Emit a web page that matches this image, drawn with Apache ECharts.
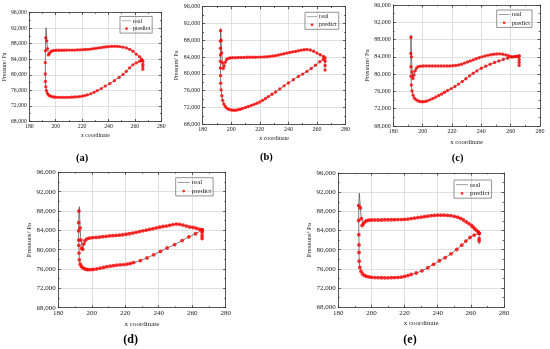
<!DOCTYPE html>
<html><head><meta charset="utf-8">
<script src="https://cdn.jsdelivr.net/npm/echarts@6.0.0/dist/echarts.min.js"></script>
<style>html,body{margin:0;padding:0;background:#fff}#c{width:550px;height:349px}</style>
</head><body><div id="c"></div><script>
// ---------- data ----------
const seriesNames = ['real', 'predict'];
const panelLabels = ['(a)', '(b)', '(c)', '(d)', '(e)'];
const xTitle = 'x coordinate';
const yTitle = 'Pressure/ Pa';
const xRange = [180, 280, 20];
const yRange = [68000, 96000, 4000];

// panel (a)
const xA = [266,266,266,266,265,263.5,261,258.5,256,253.5,251,248.5,246.5,244.5,242.5,240.5,238.5,236.5,234.5,232.5,230.5,228.5,226.5,224.5,222.5,220.5,218.5,216.5,214.5,212.5,210.5,208.5,206.5,204.5,202.5,200.5,198.8,197.4,196.2,195.3,194.5,193.8,193.2,192.7,192.4,192.2,192.1,192.1,192.2,192.5,193,193.7,194.6,195.7,197,198.5,200,202,204,206,208,210,212,214,216,218,220,222,224,226.5,229,231.5,234.5,237.5,241,244.5,248,251,253.5,256,258.5,261,263.5,265.5];
const realA = [81400,82100,82700,83500,84000,84650,85300,86050,86550,86900,87100,87250,87300,87300,87300,87250,87200,87100,87000,86900,86800,86700,86600,86550,86500,86450,86400,86400,86350,86350,86350,86350,86300,86300,86300,86300,86250,86150,85950,85500,85100,86700,88700,92100,89500,86200,83100,80200,78300,76900,75900,75200,74800,74550,74400,74300,74250,74200,74200,74200,74200,74200,74250,74300,74350,74400,74500,74650,74850,75100,75500,75950,76450,77100,77750,78500,79300,80100,80900,81800,82550,83050,83450,83700];
const predA = [81400,82100,82700,83500,84000,84650,85300,86050,86550,86900,87100,87250,87300,87300,87300,87250,87200,87100,87000,86900,86800,86700,86600,86550,86500,86450,86400,86400,86350,86350,86350,86350,86300,86300,86300,86300,86250,86150,85950,85500,85100,86700,88700,null,89500,86200,83100,80200,78300,76900,75900,75200,74800,74550,74400,74300,74250,74200,74200,74200,74200,74200,74250,74300,74350,74400,74500,74650,74850,75100,75500,75950,76450,77100,77750,78500,79300,80100,80900,81800,82550,83050,83450,83700];

// panel (b)
const xB = [265.7,265.7,265.7,265.7,264.6,262.3,260,257.7,255.3,253,251,249,247,245,243,241,239,237,235,233,231,229,227,225,223,221,219,217,215,213,211,209,207,205,203,201,199.2,197.8,196.7,195.8,195,194.4,193.8,193.3,192.9,192.7,192.5,192.4,192.4,192.4,192.4,192.4,192.5,192.6,192.9,193.4,194,194.8,195.8,197,198.4,200,201.6,203.2,204.8,206.4,208,210,212,214,216,218,220,222,224,226,228.5,231,234,237,240,243.5,247,250,253,256,259,262,264.5];
const realB = [80900,82000,83000,83800,84150,84550,84950,85400,85700,85800,85750,85650,85500,85350,85250,85100,84950,84800,84650,84500,84350,84250,84150,84100,84050,84000,84000,83950,83950,83950,83950,83900,83900,83900,83850,83850,83800,83700,83400,82800,81900,81300,82600,85000,88000,90800,90300,87800,86100,84500,83000,81400,79600,77800,76200,74800,73700,72850,72250,71800,71550,71400,71350,71350,71450,71600,71800,72000,72250,72500,72750,73000,73300,73700,74150,74600,75150,75700,76400,77150,77850,78600,79400,79950,80600,81300,82050,82900,83500];
const predB = [80900,82000,83000,83800,84150,84550,84950,85400,85700,85800,85750,85650,85500,85350,85250,85100,84950,84800,84650,84500,84350,84250,84150,84100,84050,84000,84000,83950,83950,83950,83950,83900,83900,83900,83850,83850,83800,83700,83400,82800,81900,81300,82600,85000,88000,null,90300,87800,86100,84500,83000,81400,79600,77800,76200,74800,73700,72850,72250,71800,71550,71400,71350,71350,71450,71600,71800,72000,72250,72500,72750,73000,73300,73700,74150,74600,75150,75700,76400,77150,77850,78600,79400,79950,80600,81300,82050,82900,83500];

// panel (c)
const xC = [265.8,265.8,265.8,265.8,264.3,262.3,260.3,258.5,256.7,254.6,252.5,250.5,248.5,246.5,244.5,242.5,240.5,238.5,236.5,234.5,232.5,230.5,228.5,226.5,224.5,222.5,220.5,218.5,216.5,214.5,212.5,210.5,208.5,206.5,204.5,202.5,200.5,198.6,197,195.8,194.9,194.1,193.4,192.8,192.4,192.1,192,191.9,192,192.1,192.3,192.8,193.5,194.4,195.6,197,198.5,200,201.5,203,205,207,209,211,213,215,217,219.5,222,224.5,227,229.5,232,234.5,237,240,243,246,249,252,255,258,261,263.5,265.8];
const realC = [82000,82700,83400,84200,84100,84050,84050,84250,84450,84600,84700,84650,84600,84500,84350,84200,84000,83800,83550,83300,83050,82800,82550,82300,82100,82000,81950,81900,81900,81900,81900,81900,81900,81900,81900,81900,81900,81850,81750,81400,80800,79800,79000,80500,84000,89100,88500,84800,81700,79500,77500,76100,75100,74450,74050,73800,73650,73600,73650,73800,74050,74350,74700,75050,75400,75800,76200,76650,77150,77700,78300,78950,79600,80200,80750,81350,81850,82300,82700,83050,83400,83700,83950,84100,84200];
const predC = [82000,82700,83400,84200,84100,84050,84050,84250,84450,84600,84700,84650,84600,84500,84350,84200,84000,83800,83550,83300,83050,82800,82550,82300,82100,82000,81950,81900,81900,81900,81900,81900,81900,81900,81900,81900,81900,81850,81750,81400,80800,79800,79000,80500,84000,null,88500,84800,81700,79500,77500,76100,75100,74450,74050,73800,73650,73600,73650,73800,74050,74350,74700,75050,75400,75800,76200,76650,77150,77700,78300,78950,79600,80200,80750,81350,81850,82300,82700,83050,83400,83700,83950,84100,84200];

// panel (d)
const xD = [265.9,265.9,265.9,265.9,264.3,262.4,260.5,258.5,256.5,254.5,252.5,250.5,248.5,246.5,244.5,242.5,240.5,238.5,236.5,234.5,232.5,230.5,228.5,226.5,224.5,222.5,220.5,218.5,216.5,214.5,212.5,210.5,208.5,206.5,204.5,202.5,200.5,198.6,197.1,196,195.2,194.5,194,193.5,193,192.6,192.3,192.2,192.2,192.2,192.3,192.4,192.6,193.1,193.8,194.7,195.7,196.8,198,199.5,201,203,205,207,209,211,213,215,217,219,221,223,225,229,233,237,241,245,249.5,254,258,262,265.9];
const realD = [82300,82900,83600,84100,84250,84450,84600,84700,84900,85100,85250,85300,85200,85050,84900,84800,84650,84500,84350,84200,84050,83900,83750,83600,83450,83300,83200,83100,83000,82950,82900,82850,82750,82700,82600,82550,82500,82400,82250,81900,81200,80100,80300,82000,84500,88900,88000,85600,83900,82000,80900,79300,77900,77000,76550,76250,76050,75920,75860,75880,75930,76030,76170,76320,76480,76600,76700,76800,76870,76930,77000,77150,77330,77750,78300,78950,79650,80350,81050,81900,82650,83300,84100];
const predD = [82300,82900,83600,84100,84250,84450,84600,84700,84900,85100,85250,85300,85200,85050,84900,84800,84650,84500,84350,84200,84050,83900,83750,83600,83450,83300,83200,83100,83000,82950,82900,82850,82750,82700,82600,82550,82500,82400,82250,81900,81200,80100,80300,82000,84500,null,88000,85600,83900,82000,80900,79300,77900,77000,76550,76250,76050,75920,75860,75880,75930,76030,76170,76320,76480,76600,76700,76800,76870,76930,77000,77150,77330,77750,78300,78950,79650,80350,81050,81900,82650,83300,84100];

// panel (e)
const xE = [265,265,265,265,264.5,263.5,262.4,261.4,260.4,258.8,257.2,255.5,253.8,252,250,248,246,244,242,240,238,236,234,232,230,228,226,224,222,220,218,216,214,212,210,208,206,204,202,200,198.4,197.1,196,195.1,194.4,193.9,193.3,192.7,192.3,192.3,192.4,192.5,192.5,192.6,193,193.7,194.6,195.7,197,198.5,200,202,204,206,208,210,212,214,216,218,220,222,224,227,230.5,234,237.5,241,244.5,248,251.5,254.5,257,259.5,262,265];
const realE = [81100,81800,82300,83400,83700,84000,84350,84700,85050,85450,85800,86200,86550,86800,86950,87100,87150,87200,87200,87200,87150,87100,87000,86900,86800,86700,86600,86500,86400,86350,86300,86300,86250,86250,86250,86250,86200,86200,86200,86200,86150,86050,85800,85400,85050,86500,88700,91800,89200,86100,83150,81000,79450,77600,76300,75500,74950,74650,74450,74350,74250,74200,74180,74160,74150,74150,74170,74200,74230,74300,74430,74620,74850,75150,75600,76250,76950,77700,78350,79150,80050,80950,81800,82550,83050,83400];
const predE = [null,81800,82300,83400,83700,84000,84350,84700,85050,85450,85800,86200,86550,86800,86950,87100,87150,87200,87200,87200,87150,87100,87000,86900,86800,86700,86600,86500,86400,86350,86300,86300,86250,86250,86250,86250,86200,86200,86200,86200,86150,86050,85800,85400,85050,86500,88700,null,89200,86100,83150,81000,79450,77600,76300,75500,74950,74650,74450,74350,74250,74200,74180,74160,74150,74150,74170,74200,74230,74300,74430,74620,74850,75150,75600,76250,76950,77700,78350,79150,80050,80950,81800,82550,83050,83400];

const panelX = [xA, xB, xC, xD, xE];
const panelReal = [realA, realB, realC, realD, realE];
const panelPred = [predA, predB, predC, predD, predE];

// ---------- layout (positions / sizes / styles) ----------
const FONT = "'Liberation Serif','Times New Roman',serif";
const layout = [
  {g:[24.3,12.5,137,109],    fs:5.8, nfs:5.8, yGap:18.3, xGap:10.5, lg:[120,16.5],   lfs:6.2, lw:9,  ds:3.3, lab:[82,158.3],  lbf:10.5},
  {g:[202.7,6.7,142.8,117.6],fs:6.0, nfs:6.0, yGap:19.4, xGap:11,   lg:[305,12.3],   lfs:6.4, lw:10, ds:3.4, lab:[266.3,157.7],lbf:10.5},
  {g:[393.3,5,146.7,121],    fs:6.0, nfs:6.6, yGap:21.6, xGap:12.4, lg:[496.7,10],   lfs:6.6, lw:11, ds:3.4, lab:[457.7,158.3],lbf:10.5},
  {g:[58.3,172.4,167.4,135.3],fs:7.0,nfs:7.0, yGap:25,   xGap:12.8, lg:[175.7,177.7],lfs:7,   lw:12, ds:3.8, lab:[130.7,340], lbf:12},
  {g:[338.3,173,165.7,134.3],fs:7.0, nfs:7.0, yGap:22.3, xGap:12.8, lg:[454,180],    lfs:7,   lw:12, ds:3.8, lab:[410,340],   lbf:12}
];

const fmt = v => String(v).replace(/\B(?=(\d{3})+(?!\d))/g, ',');
const grid = [], xAxis = [], yAxis = [], series = [], legend = [], graphic = [];
const axisLineStyle = {color:'#333', width:0.8};
const gridLineStyle = {color:'#d8d8d8', width:0.8};
const REAL_COLOR = '#5a5a5a', PRED_COLOR = '#ff0000';

layout.forEach((L, i) => {
  grid.push({left:L.g[0], top:L.g[1], width:L.g[2], height:L.g[3], containLabel:false});
  const tickBase = {show:true, inside:true, length:2.5, lineStyle:axisLineStyle};
  const minorBase = {show:true, splitNumber:2, length:1.3, lineStyle:axisLineStyle};
  xAxis.push({gridIndex:i, type:'value', min:xRange[0], max:xRange[1], interval:xRange[2], position:'bottom',
    axisLine:{show:true, onZero:false, lineStyle:axisLineStyle}, axisTick:tickBase, minorTick:minorBase,
    splitLine:{show:true, lineStyle:gridLineStyle},
    axisLabel:{fontSize:L.fs, fontFamily:FONT, color:'#222', margin:2},
    name:xTitle, nameLocation:'middle', nameGap:L.xGap, nameTextStyle:{fontSize:L.nfs, fontFamily:FONT, color:'#222'}});
  xAxis.push({gridIndex:i, type:'value', min:xRange[0], max:xRange[1], interval:xRange[2], position:'top',
    axisLine:{show:true, onZero:false, lineStyle:axisLineStyle}, axisTick:tickBase, minorTick:minorBase,
    splitLine:{show:false}, axisLabel:{show:false}});
  yAxis.push({gridIndex:i, type:'value', min:yRange[0], max:yRange[1], interval:yRange[2], position:'left',
    axisLine:{show:true, onZero:false, lineStyle:axisLineStyle}, axisTick:tickBase, minorTick:minorBase,
    splitLine:{show:true, lineStyle:gridLineStyle},
    axisLabel:{fontSize:L.fs, fontFamily:FONT, color:'#222', margin:2.5, formatter:fmt},
    name:yTitle, nameLocation:'middle', nameGap:L.yGap - L.nfs/2 - 0.5, nameTextStyle:{fontSize:L.nfs, fontFamily:FONT, color:'#222'}});
  yAxis.push({gridIndex:i, type:'value', min:yRange[0], max:yRange[1], interval:yRange[2], position:'right',
    axisLine:{show:true, onZero:false, lineStyle:axisLineStyle}, axisTick:tickBase, minorTick:minorBase,
    splitLine:{show:false}, axisLabel:{show:false}});

  const xs = panelX[i], rv = panelReal[i], pv = panelPred[i];
  series.push({name:seriesNames[0], type:'line', xAxisIndex:2*i, yAxisIndex:2*i,
    data: xs.map((x, j) => [x, rv[j]]), symbol:'none', showSymbol:false,
    lineStyle:{color:REAL_COLOR, width:0.8}, itemStyle:{color:REAL_COLOR}, z:2, animation:false});
  series.push({name:seriesNames[1], type:'scatter', xAxisIndex:2*i, yAxisIndex:2*i,
    data: xs.map((x, j) => [x, pv[j]]).filter(p => p[1] !== null), symbol:'circle', symbolSize:L.ds,
    itemStyle:{color:PRED_COLOR}, z:3, animation:false});

  legend.push({left:L.lg[0], top:L.lg[1], orient:'vertical', selectedMode:false,
    borderColor:'#777', borderWidth:0.8, padding:[1,2,1,2], itemGap:1,
    itemWidth:L.lw, itemHeight:2.8, symbolKeepAspect:true,
    textStyle:{fontSize:L.lfs, fontFamily:FONT, color:'#222', lineHeight:L.lfs+0.6, padding:[0,0,0,-3]},
    data:[
      {name:seriesNames[0], icon:'path://M0,0L20,0L20,1L0,1Z', itemStyle:{color:REAL_COLOR}},
      {name:seriesNames[1], icon:'circle', itemStyle:{color:PRED_COLOR}}
    ]});

  graphic.push({type:'text', x:L.lab[0], y:L.lab[1],
    style:{text:panelLabels[i], fontSize:L.lbf, fontWeight:'bold', fontFamily:FONT, fill:'#000',
      textAlign:'center', textVerticalAlign:'middle'}});
});

const chart = echarts.init(document.getElementById('c'), null, {renderer:'canvas'});
chart.setOption({animation:false, backgroundColor:'#fff', grid, xAxis, yAxis, series, legend, graphic});
</script></body></html>
